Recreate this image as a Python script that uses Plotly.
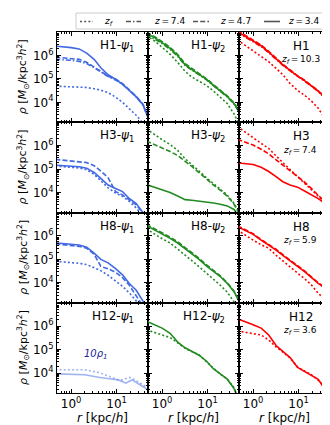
import plotly.graph_objects as go
from plotly.subplots import make_subplots

# radius grid [kpc/h]
R = [0.45, 0.7, 1.0, 1.5, 2.2, 3.2, 4.5, 6.5, 9.5, 13.5, 19, 27, 38, 48]
R_H12_PSI1 = [0.45, 1.0, 2.0, 4.0, 7.0, 11, 14, 16, 19, 22, 30, 40, 48]

# ---------- H1 ----------
h1_psi1_zf = [4.9e4, 4.8e4, 4.7e4, 4.6e4, 4.3e4, 3.8e4, 3.3e4, 2.6e4, 1.66e4, 1.0e4, 5.5e3, 2.8e3, 1.3e3, 8e2]
h1_psi1_z74 = [6.9e5, 6.6e5, 6.2e5, 5.6e5, 4.5e5, 3.0e5, 2.0e5, 1.26e5, 8.9e4, 5.8e4, 3.3e4, 1.7e4, 7.6e3, 2.5e3]
h1_psi1_z47 = [8.5e5, 7.9e5, 7.4e5, 6.8e5, 5.1e5, 3.3e5, 2.1e5, 1.3e5, 1.0e5, 6.3e4, 3.5e4, 1.8e4, 8.3e3, 2.8e3]
h1_psi1_z34 = [2.5e6, 2.35e6, 2.15e6, 1.9e6, 1.26e6, 6.8e5, 3.0e5, 1.5e5, 9.8e4, 5.9e4, 3.2e4, 1.7e4, 7.9e3, 2.5e3]

h1_psi2_zf = [7.1e6, 4.0e6, 2.2e6, 1.12e6, 5.0e5, 2.1e5, 1.2e5, 7.9e4, 5.2e4, 3.0e4, 1.66e4, 8.9e3, 3.2e3, 1.26e3]
h1_psi2_z74 = [8.0e6, 5.0e6, 3.2e6, 1.8e6, 9.2e5, 3.7e5, 2.3e5, 1.5e5, 9.0e4, 5.0e4, 3.0e4, 1.7e4, 8.5e3, 4.2e3]
h1_psi2_z47 = [9.8e6, 6.2e6, 3.9e6, 2.2e6, 1.1e6, 4.5e5, 2.8e5, 1.75e5, 1.0e5, 5.6e4, 3.4e4, 1.9e4, 9.5e3, 4.8e3]
h1_psi2_z34 = [8.9e6, 5.6e6, 3.5e6, 2.0e6, 1.0e6, 4.0e5, 2.5e5, 1.6e5, 9.5e4, 5.2e4, 3.2e4, 1.8e4, 8.9e3, 4.5e3]

h1_zf = [4.6e6, 2.5e6, 1.6e6, 8.9e5, 5.4e5, 2.8e5, 1.5e5, 6.3e4, 3.2e4, 2.0e4, 1.15e4, 5.6e3, 2.2e3, 1.0e3]
h1_z74 = [9.5e6, 5.8e6, 3.9e6, 2.4e6, 1.3e6, 6.5e5, 3.8e5, 2.2e5, 1.25e5, 8.1e4, 5.0e4, 2.9e4, 1.5e4, 6.2e3]
h1_z47 = [1.15e7, 7.0e6, 4.6e6, 2.8e6, 1.5e6, 7.4e5, 4.2e5, 2.4e5, 1.35e5, 8.8e4, 5.4e4, 3.1e4, 1.65e4, 7.0e3]
h1_z34 = [1.05e7, 6.3e6, 4.2e6, 2.6e6, 1.4e6, 6.9e5, 4.0e5, 2.3e5, 1.3e5, 8.5e4, 5.2e4, 3.0e4, 1.6e4, 6.6e3]

# ---------- H3 ----------
h3_psi1_zf = [1.35e5, 1.26e5, 1.2e5, 1.12e5, 9.5e4, 6.0e4, 3.2e4, 1.6e4, 9.5e3, 6.9e3, 4.2e3, 2.2e3, 1.0e3, 5e2]
h3_psi1_z47 = [2.6e5, 2.4e5, 2.2e5, 2.1e5, 1.9e5, 1.4e5, 8.3e4, 4.3e4, 1.1e4, 7.9e3, 4.8e3, 3.0e3, 1.4e3, 6.3e2]
h3_psi1_z34 = [1.48e5, 1.38e5, 1.32e5, 1.26e5, 1.1e5, 7.2e4, 4.0e4, 2.1e4, 1.5e4, 1.1e4, 5.6e3, 3.4e3, 1.4e3, 6.3e2]

h3_psi2_zf = [5.2e6, 2.8e6, 1.8e6, 1.12e6, 6.3e5, 2.8e5, 1.6e5, 8.3e4, 4.2e4, 2.4e4, 1.4e4, 7.9e3, 3.5e3, 1.6e3]
h3_psi2_z47 = [1.6e6, 1.12e6, 8.3e5, 5.6e5, 3.8e5, 2.2e5, 1.3e5, 7.1e4, 3.7e4, 2.1e4, 1.26e4, 7.1e3, 3.2e3, 1.4e3]
h3_psi2_z34 = [2.2e4, 1.66e4, 1.32e4, 1.0e4, 7.1e3, 5.0e3, 4.7e3, 4.4e3, 4.0e3, 3.6e3, 3.2e3, 2.7e3, 1.9e3, 1.0e3]

h3_zf = [6.6e6, 3.5e6, 2.2e6, 1.26e6, 7.6e5, 3.5e5, 1.9e5, 9.5e4, 4.8e4, 2.6e4, 1.45e4, 7.6e3, 3.8e3, 2.2e3]
h3_z47 = [1.9e6, 1.4e6, 1.07e6, 7.1e5, 4.5e5, 2.5e5, 1.5e5, 8.9e4, 5.0e4, 2.8e4, 1.5e4, 7.9e3, 4.0e3, 2.4e3]
h3_z34 = [1.86e5, 1.74e5, 1.58e5, 1.2e5, 7.9e4, 4.8e4, 2.9e4, 2.1e4, 1.7e4, 1.17e4, 8.3e3, 5.5e3, 3.5e3, 2.2e3]

# ---------- H8 ----------
h8_psi1_zf = [8.3e4, 7.8e4, 7.2e4, 6.8e4, 6.0e4, 4.5e4, 3.3e4, 2.1e4, 1.15e4, 7.1e3, 3.7e3, 1.8e3, 8e2, 4e2]
h8_psi1_z47 = [4.6e5, 4.3e5, 4.0e5, 3.6e5, 3.0e5, 1.66e5, 5.0e4, 4.0e4, 2.8e4, 1.66e4, 7.9e3, 2.6e3, 1.0e3, 5e2]
h8_psi1_z34 = [5.1e5, 4.8e5, 4.5e5, 4.1e5, 3.3e5, 1.86e5, 1.0e5, 7.1e4, 4.0e4, 2.2e4, 9.3e3, 4.8e3, 1.66e3, 8e2]

h8_psi2_zf = [2.0e6, 1.12e6, 7.6e5, 5.0e5, 2.8e5, 1.5e5, 8.9e4, 4.8e4, 2.6e4, 1.4e4, 7.9e3, 4.0e3, 1.6e3, 8e2]
h8_psi2_z47 = [3.1e6, 2.0e6, 1.4e6, 8.9e5, 5.6e5, 3.3e5, 2.0e5, 1.12e5, 5.8e4, 3.5e4, 2.0e4, 1.0e4, 4.5e3, 1.9e3]
h8_psi2_z34 = [2.8e6, 1.8e6, 1.26e6, 7.9e5, 5.0e5, 2.95e5, 1.8e5, 1.0e5, 5.2e4, 3.2e4, 1.86e4, 9.5e3, 4.2e3, 1.8e3]

h8_zf = [1.8e6, 1.0e6, 6.6e5, 4.2e5, 3.0e5, 1.5e5, 8.9e4, 5.0e4, 2.6e4, 1.5e4, 8.3e3, 3.6e3, 1.9e3, 1.0e3]
h8_z47 = [2.7e6, 1.7e6, 1.25e6, 7.0e5, 4.5e5, 2.7e5, 1.6e5, 9.5e4, 5.3e4, 3.2e4, 1.8e4, 1.0e4, 6.3e3, 2.3e3]
h8_z34 = [2.5e6, 1.6e6, 1.17e6, 6.6e5, 4.2e5, 2.5e5, 1.5e5, 8.9e4, 5.0e4, 3.0e4, 1.7e4, 9.5e3, 6.0e3, 2.2e3]

# ---------- H12 ----------
h12_psi1_zf = [1.4e4, 1.4e4, 1.38e4, 1.07e4, 7.1e3, 5.1e3, 5.2e3, 5.6e3, 6.5e3, 6.0e3, 4.2e3, 3.0e3, 2.4e3]
h12_psi1_z34 = [9.3e3, 8.9e3, 8.5e3, 6.6e3, 5.5e3, 5.1e3, 4.2e3, 3.7e3, 4.5e3, 5.1e3, 3.5e3, 2.5e3, 2.0e3]

h12_psi2_zf = [7.1e5, 5.2e5, 4.2e5, 3.3e5, 2.0e5, 1.15e5, 8.3e4, 6.0e4, 3.0e4, 1.6e4, 8.9e3, 5.6e3, 2.4e3, 8e2]
h12_psi2_z34 = [1.66e6, 1.12e6, 8.3e5, 5.0e5, 2.1e5, 1.2e5, 8.5e4, 5.8e4, 3.2e4, 1.5e4, 9.3e3, 5.5e3, 2.2e3, 8e2]

h12_zf = [6.3e5, 5.5e5, 5.0e5, 4.2e5, 2.6e5, 1.3e5, 7.9e4, 4.4e4, 1.8e4, 1.26e4, 8.5e3, 5.0e3, 2.5e3, 1.26e3]
h12_z34 = [2.1e6, 1.45e6, 1.15e6, 8.3e5, 4.2e5, 1.5e5, 8.3e4, 4.6e4, 1.74e4, 1.2e4, 8.3e3, 5.4e3, 2.0e3, 1.1e3]

# labels
TS = "\u2009"  # thin space, as in math-text spacing
legend_keys = ["zf", "z74", "z47", "z34"]
legend_labels = ["<i>z<sub>f</sub></i>", f"<i>z</i>{TS}={TS}7.4", f"<i>z</i>{TS}={TS}4.7", f"<i>z</i>{TS}={TS}3.4"]
halo_names = ["H1", "H3", "H8", "H12"]
zf_values = ["10.3", "7.4", "5.9", "3.6"]

BLUE = "#4169E1"
LIGHTBLUE = "rgba(65,105,225,0.5)"
GREEN = "#228B22"
RED = "#FF0000"
DASH = {"zf": "2px,2.2px", "z74": "5px,2px,1.5px,2px", "z47": "5px,2.2px", "z34": "solid"}

panels = [
    (1, 1, BLUE, R, {"zf": h1_psi1_zf, "z74": h1_psi1_z74, "z47": h1_psi1_z47, "z34": h1_psi1_z34}),
    (1, 2, GREEN, R, {"zf": h1_psi2_zf, "z74": h1_psi2_z74, "z47": h1_psi2_z47, "z34": h1_psi2_z34}),
    (1, 3, RED, R, {"zf": h1_zf, "z74": h1_z74, "z47": h1_z47, "z34": h1_z34}),
    (2, 1, BLUE, R, {"zf": h3_psi1_zf, "z47": h3_psi1_z47, "z34": h3_psi1_z34}),
    (2, 2, GREEN, R, {"zf": h3_psi2_zf, "z47": h3_psi2_z47, "z34": h3_psi2_z34}),
    (2, 3, RED, R, {"zf": h3_zf, "z47": h3_z47, "z34": h3_z34}),
    (3, 1, BLUE, R, {"zf": h8_psi1_zf, "z47": h8_psi1_z47, "z34": h8_psi1_z34}),
    (3, 2, GREEN, R, {"zf": h8_psi2_zf, "z47": h8_psi2_z47, "z34": h8_psi2_z34}),
    (3, 3, RED, R, {"zf": h8_zf, "z47": h8_z47, "z34": h8_z34}),
    (4, 1, LIGHTBLUE, R_H12_PSI1, {"zf": h12_psi1_zf, "z34": h12_psi1_z34}),
    (4, 2, GREEN, R, {"zf": h12_psi2_zf, "z34": h12_psi2_z34}),
    (4, 3, RED, R, {"zf": h12_zf, "z34": h12_z34}),
]

W, H = 330, 425
ML, MR, MT, MB = 49, 8, 24, 40
AW = W - ML - MR
AH = H - MT - MB
PW = AW / 3
PH = AH / 4


def px_to_paper_x(px):
    return (px - ML) / AW


def px_to_paper_y(py):
    return 1 - (py - MT) / AH


fig = make_subplots(rows=4, cols=3, shared_xaxes=True, shared_yaxes=True,
                    horizontal_spacing=0, vertical_spacing=0)

for row, col, color, rr, curves in panels:
    for key, vals in curves.items():
        fig.add_trace(go.Scatter(x=rr, y=vals, mode="lines", showlegend=False,
                                 line=dict(color=color, width=1.6, dash=DASH[key]),
                                 hoverinfo="skip"), row=row, col=col)

xminor = [m * 10 ** k for k in range(-1, 3) for m in range(2, 10)]
yminor = [m * 10 ** k for k in range(3, 8) for m in range(2, 10)]
font = "DejaVu Sans"

for row in range(1, 5):
    for col in range(1, 4):
        fig.update_xaxes(type="log", range=[-0.31, 1.69], tickvals=[1, 10],
                         ticktext=["10<sup>0</sup>", "10<sup>1</sup>"],
                         showticklabels=(row == 4), ticks="inside", ticklen=4,
                         tickcolor="black", showline=True, linecolor="black", linewidth=1,
                         mirror="ticks", showgrid=False, zeroline=False,
                         minor=dict(tickvals=xminor, ticks="inside", ticklen=2, tickcolor="black", showgrid=False),
                         tickfont=dict(size=12, family=font, color="black"),
                         row=row, col=col)
        fig.update_yaxes(type="log", range=[3.15, 7.0], tickvals=[1e4, 1e5, 1e6],
                         ticktext=["10<sup>4</sup>", "10<sup>5</sup>", "10<sup>6</sup>"],
                         showticklabels=(col == 1), ticks="inside", ticklen=4,
                         tickcolor="black", showline=True, linecolor="black", linewidth=1,
                         mirror="ticks", showgrid=False, zeroline=False,
                         minor=dict(tickvals=yminor, ticks="inside", ticklen=2, tickcolor="black", showgrid=False),
                         tickfont=dict(size=12, family=font, color="black"),
                         row=row, col=col)

# panel labels
for i, name in enumerate(halo_names):
    row = i + 1
    for col, sub in [(1, "1"), (2, "2")]:
        fig.add_annotation(row=row, col=col, xref="x domain", yref="y domain",
                           x=1 - 12 / PW, y=1 - 14 / PH, xanchor="right", yanchor="middle",
                           text=f"{name}-<i>ψ</i><sub>{sub}</sub>", showarrow=False,
                           font=dict(size=12, family=font, color="black"))
    fig.add_annotation(row=row, col=3, xref="x domain", yref="y domain",
                       x=62 / PW, y=1 - 14 / PH, xanchor="center", yanchor="middle",
                       text=name, showarrow=False, font=dict(size=12, family=font, color="black"))
    fig.add_annotation(row=row, col=3, xref="x domain", yref="y domain",
                       x=61 / PW, y=1 - 28 / PH, xanchor="center", yanchor="middle",
                       text=f"<i>z<sub>f</sub></i>{TS}={TS}{zf_values[i]}", showarrow=False,
                       font=dict(size=9, family=font, color="black"))
    # y axis title per row
    fig.add_annotation(xref="paper", yref="paper", x=px_to_paper_x(15),
                       y=1 - (i + 0.5) / 4, textangle=-90, xanchor="center", yanchor="middle",
                       text="<i>ρ</i> [<i>M</i><sub>⊙</sub>/kpc<sup>3</sup><i>h</i><sup>2</sup>]",
                       showarrow=False, font=dict(size=11, family=font, color="black"))

for col in range(3):
    fig.add_annotation(xref="paper", yref="paper", x=(col + 0.5) / 3,
                       y=px_to_paper_y(410), xanchor="center", yanchor="middle",
                       text="<i>r</i> [kpc/<i>h</i>]", showarrow=False,
                       font=dict(size=12, family=font, color="black"))

fig.add_annotation(row=4, col=1, xref="x domain", yref="y domain",
                   x=(88 - ML) / PW, y=1 - (355 - (MT + 3 * PH)) / PH,
                   text="<i>10ρ<sub>1</sub></i>", showarrow=False,
                   font=dict(size=10, family=font, color="#1c1c9c"))

# legend box (top strip, drawn in paper coordinates)
fig.add_shape(type="rect", xref="paper", yref="paper",
              x0=px_to_paper_x(68), x1=px_to_paper_x(322),
              y0=px_to_paper_y(21), y1=px_to_paper_y(5),
              line=dict(color="#cccccc", width=1), fillcolor="white", layer="below")
sample_x = [(72, 85), (118, 133), (185, 201), (256, 272)]
text_x = [94, 144, 210, 278]
for key, label, (sx0, sx1), tx in zip(legend_keys, legend_labels, sample_x, text_x):
    fig.add_shape(type="line", xref="paper", yref="paper",
                  x0=px_to_paper_x(sx0), x1=px_to_paper_x(sx1),
                  y0=px_to_paper_y(13.5), y1=px_to_paper_y(13.5),
                  line=dict(color="#555555", width=1.6, dash=DASH[key]), layer="above")
    fig.add_annotation(xref="paper", yref="paper", x=px_to_paper_x(tx), y=px_to_paper_y(13),
                       xanchor="left", yanchor="middle", text=label, showarrow=False,
                       font=dict(size=9, family=font, color="black"))

fig.update_layout(
    width=W, height=H, margin=dict(l=ML, r=MR, t=MT, b=MB),
    paper_bgcolor="white", plot_bgcolor="white",
    font=dict(family=font, color="black"),
    showlegend=False,
)

fig.write_html("out.html")
